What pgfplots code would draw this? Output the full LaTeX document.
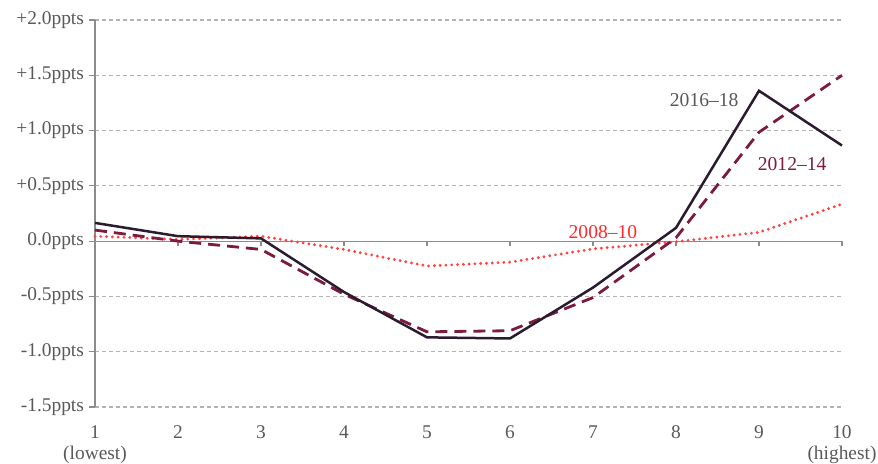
\documentclass[border=0pt]{standalone}
\usepackage{fontspec}
\setmainfont{Liberation Serif}
\usepackage{pgfplots}
\pgfplotsset{compat=1.18}

\definecolor{lineA}{HTML}{2B1B2E}
\definecolor{lineB}{HTML}{7D1A40}
\definecolor{lineC}{HTML}{FF4444}
\definecolor{labC}{HTML}{FF2A2A}
\definecolor{axisgray}{HTML}{8C8C8C}
\definecolor{gridgray}{HTML}{B3B3B3}
\definecolor{textgray}{HTML}{595959}

\begin{document}
\begin{tikzpicture}
\useasboundingbox (-47.5pt,-28pt) rectangle (391.5pt,203.5pt);
\begin{axis}[
  at={(0,0)}, anchor=south west,
  scale only axis,
  width=373.5pt, height=193.5pt,
  xmin=1, xmax=10, ymin=-1.5, ymax=2,
  axis x line*=bottom, axis y line*=left,
  x axis line style={draw=none},
  y axis line style={axisgray, line width=0.6pt},
  xtick={1,...,10},
  xticklabels={{1\\(lowest)},2,3,4,5,6,7,8,9,{10\\(highest)}},
  xtick style={draw=none},
  xticklabel style={align=center, font=\fontsize{9.7}{10.5}\selectfont, text=textgray, yshift=-3pt},
  ytick={-1.5,-1,-0.5,0,0.5,1,1.5,2},
  yticklabels={-1.5ppts,-1.0ppts,-0.5ppts,0.0ppts,+0.5ppts,+1.0ppts,+1.5ppts,+2.0ppts},
  yticklabel style={font=\fontsize{9.7}{11}\selectfont, text=textgray, xshift=1pt},
  tick align=outside,
  major tick length=3pt,
  ytick style={axisgray, line width=0.6pt},
  ymajorgrids,
  grid style={gridgray, line width=0.6pt, dash pattern=on 2pt off 1.5pt},
  clip=false,
]
\draw[axisgray, line width=0.6pt] (axis cs:1,0) -- (axis cs:10,0);
\pgfplotsinvokeforeach{1,...,10}{\draw[axisgray, line width=0.6pt] (axis cs:#1,0) -- ++(0pt,-2.5pt);}

% 2008-10
\addplot[lineC, line width=1.6pt, line cap=round, dash pattern=on 0pt off 2.9pt] coordinates {
(1,0.045) (2,0.015) (3,0.045) (4,-0.075) (5,-0.225)
(6,-0.19) (7,-0.07) (8,-0.005) (9,0.08) (10,0.335)
};
% 2012-14
\addplot[lineB, line width=1.4pt, dash pattern=on 6pt off 3.5pt] coordinates {
(1,0.10) (2,0.00) (3,-0.075) (4,-0.48) (5,-0.82)
(6,-0.81) (7,-0.51) (8,0.03) (9,0.985) (10,1.50)
};
% 2016-18
\addplot[lineA, line width=1.25pt] coordinates {
(1,0.165) (2,0.045) (3,0.025) (4,-0.46) (5,-0.87)
(6,-0.88) (7,-0.42) (8,0.12) (9,1.36) (10,0.865)
};

\node[text=textgray, font=\fontsize{9.8}{11}\selectfont] at (axis cs:8.34,1.28) {2016–18};
\node[text=lineB, font=\fontsize{9.8}{11}\selectfont] at (axis cs:9.40,0.70) {2012–14};
\node[text=labC, font=\fontsize{9.8}{11}\selectfont] at (axis cs:7.12,0.08) {2008–10};
\end{axis}
\end{tikzpicture}
\end{document}
